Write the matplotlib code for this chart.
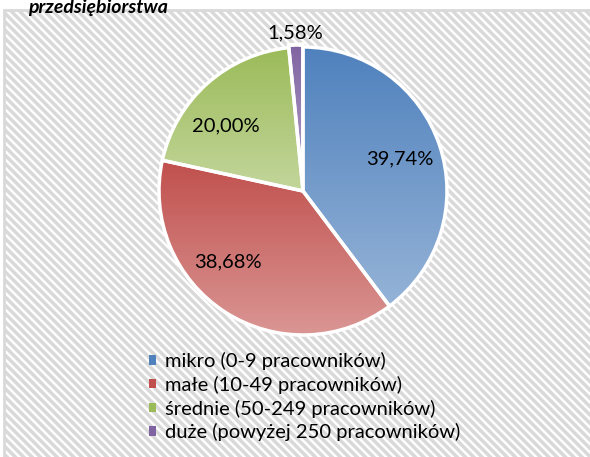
import numpy as np
import matplotlib.pyplot as plt
from matplotlib.colors import LinearSegmentedColormap
from matplotlib.patches import Rectangle

plt.rcParams['font.family'] = ['Lato', 'DejaVu Sans']
plt.rcParams['hatch.linewidth'] = 2.5
plt.rcParams['hatch.color'] = '#ececec'

# data
categories = ["mikro (0-9 pracowników)", "małe (10-49 pracowników)",
              "średnie (50-249 pracowników)", "duże (powyżej 250 pracowników)"]
shares = [39.74, 38.68, 20.00, 1.58]
title = "przedsiębiorstwa"

# dark (top) -> light (bottom) per slice
top_colors = ["#4f81bd", "#c0504d", "#9bbb59", "#8064a2"]
bottom_colors = ["#95b3d7", "#da9694", "#c3d69b", "#b2a1c7"]

fig = plt.figure(figsize=(5.9, 4.57), dpi=100)
fig.patch.set_facecolor("white")

# hatched chart area with light frame
bg = Rectangle((4 / 590, -0.1), 1.0, (457 - 10) / 457 + 0.1, transform=fig.transFigure,
               facecolor="white", edgecolor="#d9d9d9", linewidth=2,
               hatch="\\\\\\\\", zorder=-1)
fig.patches.append(bg)
fig.text(28 / 590, 1 - 13 / 457, title, fontsize=14, fontweight="bold",
         fontstyle="italic", ha="left", va="baseline")

# pie axes: center (303,191), radius 144 px
r_px = 144
ax = fig.add_axes([(303 - r_px) / 590, 1 - (191 + r_px) / 457,
                   2 * r_px / 590, 2 * r_px / 457])
ax.patch.set_visible(False)

fmt = lambda p: f"{p:.2f}%".replace(".", ",")
wedges, texts = ax.pie(shares, startangle=90, counterclock=False, radius=1,
                       explode=[0, 0, 0, 0.02],
                       wedgeprops=dict(edgecolor="white", linewidth=2.5),
                       frame=False)

grad = np.linspace(0, 1, 256).reshape(-1, 1)
for w, c0, c1 in zip(wedges, top_colors, bottom_colors):
    cmap = LinearSegmentedColormap.from_list("g", [c0, c1])
    bb = w.get_path().get_extents()
    im = ax.imshow(grad, cmap=cmap, extent=(bb.x0, bb.x1, bb.y0, bb.y1),
                   origin="upper", aspect="auto", zorder=1)
    im.set_clip_path(w)
    w.set_facecolor("none")
    w.set_zorder(2)
ax.set_xlim(-1, 1)
ax.set_ylim(-1, 1)
ax.set_aspect("auto")
ax.axis("off")

# percentage labels (distance from centre, angular nudge in degrees)
dist = [0.71, 0.72, 0.70, 1.10]
nudge = [0, -14, 8, 0]
ang0 = 90.0
for v, d, n in zip(shares, dist, nudge):
    mid = np.deg2rad(ang0 - v * 3.6 / 2 + n)
    ax.text(d * np.cos(mid), d * np.sin(mid), fmt(v), fontsize=14.5,
            ha="center", va="center", zorder=3)
    ang0 -= v * 3.6

# legend
handles = [Rectangle((0, 0), 1, 1, facecolor=c, edgecolor="none") for c in top_colors]
fig.legend(handles, categories, loc="upper left",
           bbox_to_anchor=(141 / 590, 1 - 344 / 457), frameon=False,
           fontsize=14.5, handlelength=0.35, handleheight=0.35,
           handletextpad=0.45, labelspacing=0.28, borderaxespad=0)

fig.savefig("out.png", dpi=100)
